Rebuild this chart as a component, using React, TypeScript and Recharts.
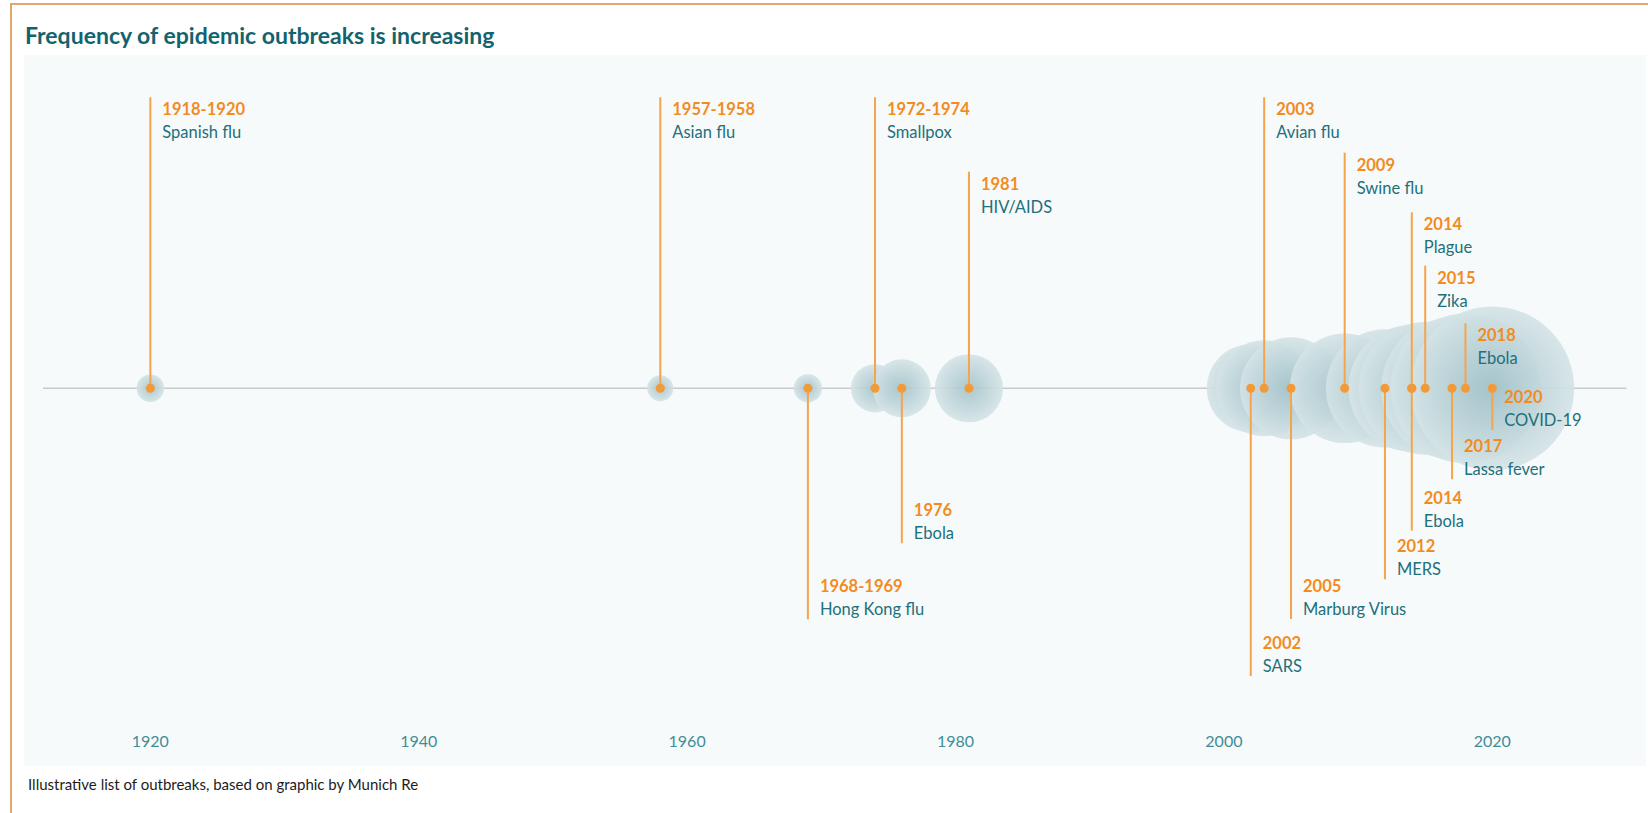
import React from "react";
import { ReferenceLine, Scatter, ScatterChart, XAxis, YAxis, ZAxis } from "recharts";

// year used to place each outbreak on the time axis
const years = [1920, 1958, 1969, 1974, 1976, 1981, 2002, 2003, 2005, 2009, 2012, 2014, 2014, 2015, 2017, 2018, 2020];
const periods = ["1918-1920", "1957-1958", "1968-1969", "1972-1974", "1976", "1981", "2002", "2003", "2005", "2009", "2012", "2014", "2014", "2015", "2017", "2018", "2020"];
const diseases = [
  "Spanish flu", "Asian flu", "Hong Kong flu", "Smallpox", "Ebola", "HIV/AIDS", "SARS", "Avian flu",
  "Marburg Virus", "Swine flu", "MERS", "Plague", "Ebola", "Zika", "Lassa fever", "Ebola", "COVID-19",
];
// bubble size (area units)
const bubbleSizes = [1.9, 1.7, 2.0, 5.8, 8.4, 11.6, 19.4, 23, 26, 30, 35, 40, 40, 44, 50, 56, 67];
// label stem height, + above the timeline, - below
const stemHeights = [87.3, 87.3, -69.3, 87.3, -46.5, 65, -86.3, 87.3, -69.2, 70.7, -57.3, 52.8, -42.7, 36.8, -27.3, 19.5, -12.5];
const tickYears = [1920, 1940, 1960, 1980, 2000, 2020];

const rows = years.map((year, i) => ({ year, pos: 0, size: bubbleSizes[i] }));
const tips = years.map((year, i) => ({ year, pos: stemHeights[i], period: periods[i], name: diseases[i] }));

const ORANGE = "#f39a38";
const STEM = "#f5a44e";
const YEAR_TXT = "#f28c1f";
const TEAL = "#21707c";
const FONT = "Lato, 'Open Sans', sans-serif";

function Bubble(props: any) {
  const { cx, cy, width, size } = props;
  const r = Number.isFinite(width) ? width / 2 : Math.sqrt(size / Math.PI);
  return <circle cx={cx} cy={cy} r={r} fill="url(#bubbleFill)" fillOpacity={0.9} />;
}

function Dot(props: any) {
  return <circle cx={props.cx} cy={props.cy} r={4.5} fill={ORANGE} />;
}

function EventLabel(props: any) {
  const { cx, cy, payload } = props;
  const up = payload.pos > 0;
  const y1 = up ? cy + 12 : cy - 33;
  const y2 = up ? cy + 35 : cy - 10;
  return (
    <g fontFamily={FONT} fontSize={16.5}>
      <text x={cx + 12} y={y1} dominantBaseline="central" fill={YEAR_TXT} fontWeight={700}>
        {payload.period}
      </text>
      <text x={cx + 12} y={y2} dominantBaseline="central" fill={TEAL}>
        {payload.name}
      </text>
    </g>
  );
}

export default function App() {
  return (
    <div style={{ position: "fixed", left: 0, top: 0, width: 1648, height: 813, overflow: "hidden", background: "#fff", fontFamily: FONT }}>
      <div style={{ position: "absolute", left: 10, top: 3, width: 1700, height: 900, border: "2px solid #dfa96c" }} />
      <div style={{ position: "absolute", left: 24, top: 55, width: 1622, height: 711, background: "#f7fafa" }} />
      <div style={{ position: "absolute", left: 25, top: 22, fontSize: 23, lineHeight: 1.2, fontWeight: 700, color: "#13636e", whiteSpace: "nowrap" }}>
        Frequency of epidemic outbreaks is increasing
      </div>
      <div style={{ position: "absolute", left: 28, top: 775, fontSize: 15, lineHeight: 1.2, color: "#1c1c1c", whiteSpace: "nowrap" }}>
        Illustrative list of outbreaks, based on graphic by Munich Re
      </div>
      <div style={{ position: "absolute", left: 0, top: 0 }}>
        <ScatterChart width={1648} height={813} margin={{ top: 55, right: 21.5, bottom: 61.4, left: 43 }}>
          <defs>
            <radialGradient id="bubbleFill" cx="50%" cy="50%" r="50%">
              <stop offset="0%" stopColor="#a3c3ca" />
              <stop offset="100%" stopColor="#d4e3e6" />
            </radialGradient>
          </defs>
          <XAxis
            type="number"
            dataKey="year"
            domain={[1912, 2030]}
            ticks={tickYears}
            height={30}
            axisLine={false}
            tickLine={false}
            tickSize={0}
            tickMargin={14}
            tick={{ fill: "#3f8d98", fontSize: 16, fontFamily: FONT }}
          />
          <YAxis type="number" dataKey="pos" domain={[-100, 100]} hide />
          <ZAxis type="number" dataKey="size" domain={[0, 100]} range={[0, 31416]} />
          <ReferenceLine y={0} stroke="#c8cacb" strokeWidth={1.5} zIndex={100} />
          <Scatter data={rows} shape={<Bubble />} isAnimationActive={false} zIndex={600} />
          {tips.map((t, i) => (
            <ReferenceLine
              key={i}
              segment={[{ x: t.year, y: 0 }, { x: t.year, y: t.pos }]}
              stroke={STEM}
              strokeWidth={2}
              zIndex={700}
            />
          ))}
          <Scatter data={rows} shape={<Dot />} isAnimationActive={false} zIndex={800} />
          <Scatter data={tips} shape={<EventLabel />} isAnimationActive={false} zIndex={900} />
        </ScatterChart>
      </div>
    </div>
  );
}
